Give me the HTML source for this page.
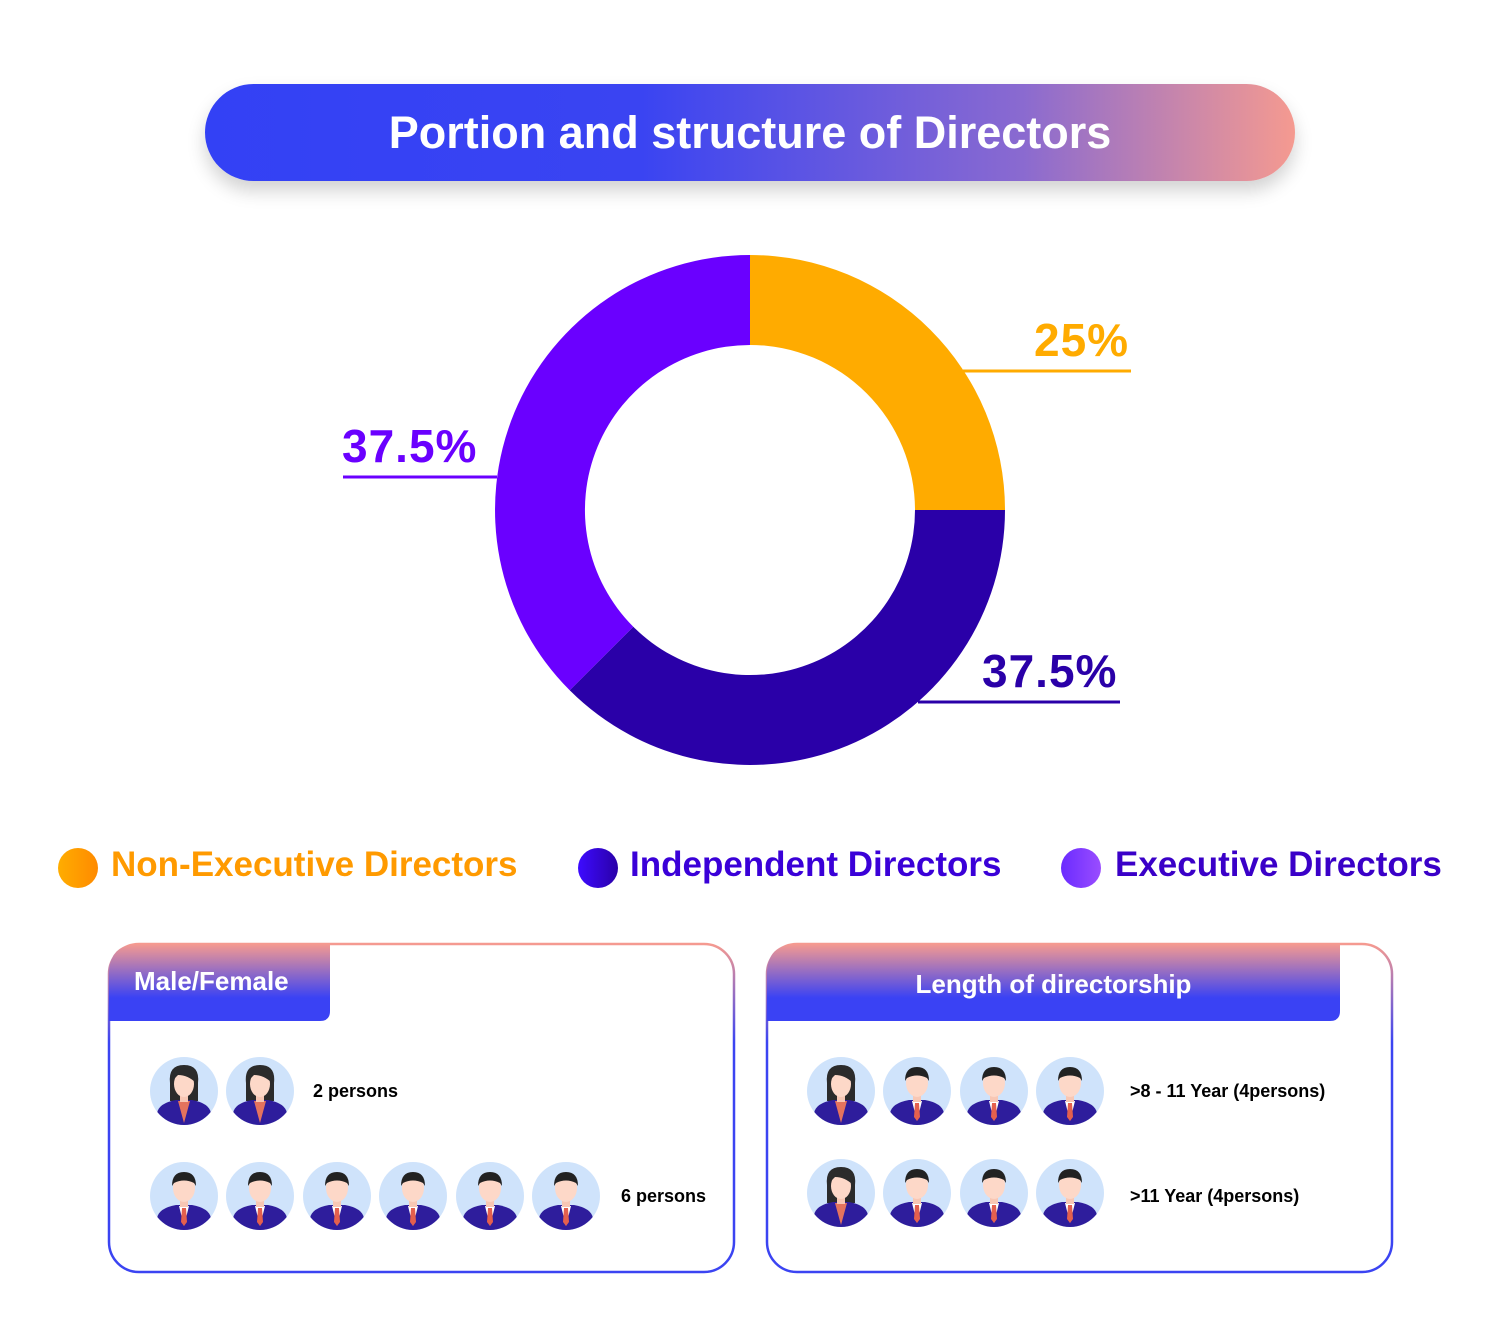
<!DOCTYPE html>
<html><head><meta charset="utf-8"><style>
body{margin:0;width:1500px;height:1337px;background:#fff;font-family:"Liberation Sans","DejaVu Sans",sans-serif;overflow:hidden;position:relative}
.t{position:absolute;white-space:nowrap;font-weight:bold}
</style></head><body>
<div style="position:absolute;left:205px;top:84px;width:1090px;height:97px;border-radius:49px;background:linear-gradient(90deg,#3341f5 0%,#3a44f2 40%,#8a6ad0 75%,#f59a90 100%);box-shadow:0 10px 18px rgba(0,0,0,0.18)"></div>
<div class="t" style="left:205px;top:107px;width:1090px;text-align:center;color:#fff;font-size:45px">Portion and structure of Directors</div>

<svg width="1500" height="1337" style="position:absolute;left:0;top:0">
<defs>
<linearGradient id="bg" x1="0" y1="0" x2="0" y2="1"><stop offset="0" stop-color="#f59a90"/><stop offset="0.3" stop-color="#3b44f2"/><stop offset="1" stop-color="#3b44f2"/></linearGradient>
<linearGradient id="tab" x1="0" y1="0" x2="0" y2="1"><stop offset="0" stop-color="#f59a90"/><stop offset="0.7" stop-color="#3a42f4"/><stop offset="1" stop-color="#3a42f4"/></linearGradient>
<linearGradient id="og" x1="0" x2="1"><stop offset="0" stop-color="#ffad00"/><stop offset="1" stop-color="#ff8a00"/></linearGradient>
<linearGradient id="ig" x1="0" x2="1"><stop offset="0" stop-color="#3d0bff"/><stop offset="1" stop-color="#2a00a8"/></linearGradient>
<linearGradient id="eg" x1="0" x2="1"><stop offset="0" stop-color="#6a2bff"/><stop offset="1" stop-color="#9a4dff"/></linearGradient>
<clipPath id="cc"><circle r="34"/></clipPath>
<g id="m"><circle r="34" fill="#cfe3fb"/><g clip-path="url(#cc)"><path d="M-27,34 L-27,22 Q-25,12 -8,9 L8,9 Q25,12 27,22 L27,34 Z" fill="#2e1d9c"/></g><path d="M-5,10 L5,10 L0,30Z" fill="#fff"/><path d="M-2,12 L2,12 L3,26 L0,30 L-3,26Z" fill="#e4604e"/><rect x="-4" y="2" width="8" height="9" fill="#f8c7b4"/><ellipse cx="0" cy="-8" rx="11" ry="14" fill="#fdd8c8"/><path d="M-12,-10 Q-12,-24 0,-24 Q12,-24 12,-10 L10,-13 Q0,-18 -10,-13Z" fill="#222"/></g>
<g id="f"><circle r="34" fill="#cfe3fb"/><path d="M-14,-8 Q-16,-26 0,-26 Q16,-26 14,-8 L14,10 L-14,10Z" fill="#2b2b2b"/><g clip-path="url(#cc)"><path d="M-27,34 L-27,22 Q-25,12 -8,9 L8,9 Q25,12 27,22 L27,34 Z" fill="#2e1d9c"/></g><path d="M-6,10 L6,10 L0,32Z" fill="#e4735e"/><rect x="-4" y="2" width="8" height="9" fill="#f8c7b4"/><ellipse cx="0" cy="-7" rx="10" ry="13" fill="#fdd8c8"/><path d="M-12,-10 Q-10,-24 2,-22 Q10,-20 12,-8 Q4,-16 -6,-16Z" fill="#2b2b2b"/></g>
</defs>
<path d="M750,255 A255,255 0 0 1 1005,510 L915,510 A165,165 0 0 0 750,345Z" fill="#ffab00"/>
<path d="M1005,510 A255,255 0 0 1 569.7,690.3 L633.3,626.7 A165,165 0 0 0 915,510Z" fill="#2a00a8"/>
<path d="M569.7,690.3 A255,255 0 0 1 750,255 L750,345 A165,165 0 0 0 633.3,626.7Z" fill="#6a00ff"/>
<line x1="963" y1="371" x2="1131" y2="371" stroke="#ffab00" stroke-width="3"/>
<line x1="343" y1="477" x2="497" y2="477" stroke="#6a00ff" stroke-width="3"/>
<line x1="918" y1="702" x2="1120" y2="702" stroke="#2a00a8" stroke-width="3"/>
<circle cx="78" cy="868" r="20" fill="url(#og)"/>
<circle cx="598" cy="868" r="20" fill="url(#ig)"/>
<circle cx="1081" cy="868" r="20" fill="url(#eg)"/>
<rect x="109" y="944" width="625" height="328" rx="30" fill="#fff" stroke="url(#bg)" stroke-width="2.5"/>
<path d="M109,974 Q109,944 139,944 L330,944 L330,1011 Q330,1021 320,1021 L109,1021Z" fill="url(#tab)"/>
<rect x="767" y="944" width="625" height="328" rx="30" fill="#fff" stroke="url(#bg)" stroke-width="2.5"/>
<path d="M767,974 Q767,944 797,944 L1340,944 L1340,1011 Q1340,1021 1330,1021 L767,1021Z" fill="url(#tab)"/>
<use href="#f" x="184" y="1091"/><use href="#f" x="260" y="1091"/>
<use href="#m" x="184" y="1196"/><use href="#m" x="260" y="1196"/><use href="#m" x="337" y="1196"/><use href="#m" x="413" y="1196"/><use href="#m" x="490" y="1196"/><use href="#m" x="566" y="1196"/>
<use href="#f" x="841" y="1091"/><use href="#m" x="917" y="1091"/><use href="#m" x="994" y="1091"/><use href="#m" x="1070" y="1091"/>
<use href="#f" x="841" y="1193"/><use href="#m" x="917" y="1193"/><use href="#m" x="994" y="1193"/><use href="#m" x="1070" y="1193"/>
</svg>

<div class="t" style="left:1034px;top:313px;color:#ffab00;font-size:46px;letter-spacing:1px">25%</div>
<div class="t" style="left:342px;top:419px;color:#6a00ff;font-size:46px;letter-spacing:1px">37.5%</div>
<div class="t" style="left:982px;top:644px;color:#2a00a8;font-size:46px;letter-spacing:1px">37.5%</div>

<div class="t" style="left:111px;top:845px;color:#ff9a00;font-size:35px">Non-Executive Directors</div>
<div class="t" style="left:630px;top:845px;color:#3a00d8;font-size:35px">Independent Directors</div>
<div class="t" style="left:1115px;top:845px;color:#3a00c8;font-size:35px">Executive Directors</div>

<div class="t" style="left:134px;top:966px;color:#fff;font-size:26px">Male/Female</div>
<div class="t" style="left:767px;top:969px;width:573px;text-align:center;color:#fff;font-size:26px">Length of directorship</div>
<div class="t" style="left:313px;top:1081px;font-size:18px">2 persons</div>
<div class="t" style="left:621px;top:1186px;font-size:18px">6 persons</div>
<div class="t" style="left:1130px;top:1081px;font-size:18px">&gt;8 - 11 Year (4persons)</div>
<div class="t" style="left:1130px;top:1186px;font-size:18px">&gt;11 Year (4persons)</div>
</body></html>
